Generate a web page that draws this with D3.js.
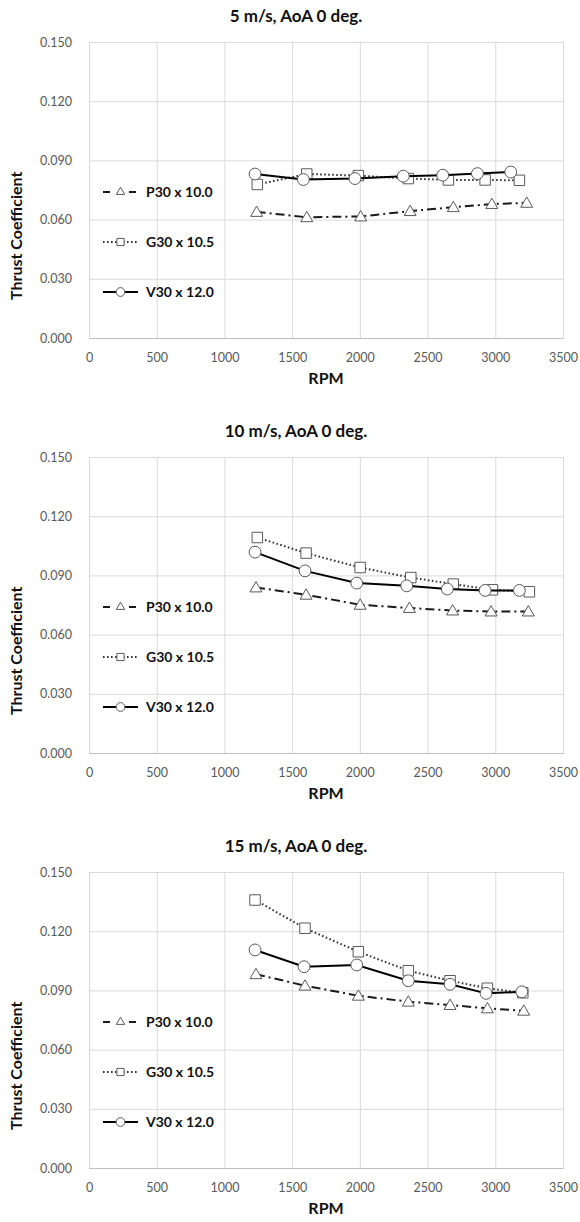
<!DOCTYPE html>
<html>
<head>
<meta charset="utf-8">
<script src="https://cdn.jsdelivr.net/npm/d3@7"></script>
<style>
  body { margin: 0; background: #fff; }
  svg { display: block; font-family: Lato, "Open Sans", sans-serif; }
</style>
</head>
<body>
<script>
(function () {
	"use strict";

	var w = 580;
	var h = 1222;

	// ticks and labels
	var rpmTicks = [0, 500, 1000, 1500, 2000, 2500, 3000, 3500];
	var ctTicks = [0, 0.03, 0.06, 0.09, 0.12, 0.15];
	var titles = ["5 m/s, AoA 0 deg.", "10 m/s, AoA 0 deg.", "15 m/s, AoA 0 deg."];
	var seriesNames = ["P30 x 10.0", "G30 x 10.5", "V30 x 12.0"];

	// 5 m/s
	var rpm5P30 = [1238, 1608, 2006, 2371, 2690, 2974, 3232];
	var ct5P30 = [0.0639, 0.0612, 0.0616, 0.0643, 0.0663, 0.0679, 0.0685];
	var rpm5G30 = [1243, 1608, 1989, 2358, 2654, 2925, 3178];
	var ct5G30 = [0.0778, 0.0831, 0.0823, 0.0808, 0.0801, 0.0801, 0.0799];
	var rpm5V30 = [1226, 1583, 1964, 2321, 2612, 2868, 3114];
	var ct5V30 = [0.0831, 0.0803, 0.0808, 0.0820, 0.0825, 0.0833, 0.0841];

	// 10 m/s
	var rpm10P30 = [1233, 1603, 2002, 2366, 2685, 2969, 3244];
	var ct10P30 = [0.0839, 0.0802, 0.0751, 0.0735, 0.0722, 0.0717, 0.0717];
	var rpm10G30 = [1243, 1603, 2002, 2376, 2690, 2979, 3252];
	var ct10G30 = [0.1092, 0.1013, 0.0940, 0.0889, 0.0856, 0.0827, 0.0817];
	var rpm10V30 = [1226, 1595, 1977, 2346, 2646, 2925, 3178];
	var ct10V30 = [0.1018, 0.0923, 0.0861, 0.0847, 0.0831, 0.0824, 0.0824];

	// 15 m/s
	var rpm15P30 = [1233, 1595, 1989, 2358, 2666, 2942, 3210];
	var ct15P30 = [0.0982, 0.0924, 0.0873, 0.0843, 0.0826, 0.0809, 0.0797];
	var rpm15G30 = [1226, 1595, 1989, 2358, 2666, 2942, 3203];
	var ct15G30 = [0.1358, 0.1215, 0.1096, 0.1000, 0.0949, 0.0911, 0.0888];
	var rpm15V30 = [1226, 1588, 1977, 2358, 2666, 2932, 3196];
	var ct15V30 = [0.1105, 0.1020, 0.1029, 0.0949, 0.0931, 0.0885, 0.0893];

	var panels = [
		[[rpm5P30, ct5P30], [rpm5G30, ct5G30], [rpm5V30, ct5V30]],
		[[rpm10P30, ct10P30], [rpm10G30, ct10G30], [rpm10V30, ct10V30]],
		[[rpm15P30, ct15P30], [rpm15G30, ct15G30], [rpm15V30, ct15V30]]
	];

	// line styles per series (P30 dash-dot, G30 dotted, V30 solid)
	var styles = [
		{ dash: "9,4,2,4", stroke: "#1a1a1a", marker: d3.symbolTriangle },
		{ dash: "1.6,2.4", stroke: "#333", marker: d3.symbolSquare },
		{ dash: null, stroke: "#000", marker: d3.symbolCircle }
	];
	var markerSize = [62, 110, 110];
	var legendMarkerSize = [30, 52, 60];

	var left = 89, right = 563;
	var plotH = 296;
	var tops = [42, 457, 872];

	var svg = d3.select("body").append("svg")
		.attr("width", w)
		.attr("height", h);

	var xScale = d3.scaleLinear().domain([0, 3500]).range([left, right]);

	function buildPanel(i) {
		var top = tops[i];
		var bottom = top + plotH;
		var yScale = d3.scaleLinear().domain([0, 0.15]).range([bottom, top]);
		var g = svg.append("g");

		// Gridlines through the axes
		var yGrid = d3.axisLeft(yScale)
			.tickValues(ctTicks)
			.tickSize(-(right - left))
			.tickFormat(d3.format(".3f"));
		var yAxis = g.append("g")
			.attr("transform", "translate(" + left + ",0)")
			.call(yGrid);
		yAxis.select(".domain").remove();
		yAxis.selectAll(".tick line").attr("stroke", "#d9d9d9");
		yAxis.selectAll(".tick text")
			.attr("x", -17)
			.attr("fill", "#595959")
			.style("font-size", "12.5px")
			.style("font-family", "Lato, sans-serif");

		var xGrid = d3.axisBottom(xScale)
			.tickValues(rpmTicks)
			.tickSize(-plotH)
			.tickFormat(d3.format("d"));
		var xAxis = g.append("g")
			.attr("transform", "translate(0," + bottom + ")")
			.call(xGrid);
		xAxis.select(".domain").attr("stroke", "#bfbfbf");
		xAxis.selectAll(".tick line").attr("stroke", "#d9d9d9");
		xAxis.selectAll(".tick text")
			.attr("y", 15)
			.attr("fill", "#595959")
			.style("font-size", "12.5px")
			.style("font-family", "Lato, sans-serif");

		// Title and axis titles
		g.append("text")
			.attr("x", 296)
			.attr("y", top - 20)
			.attr("text-anchor", "middle")
			.style("font-size", "17px")
			.style("font-weight", "bold")
			.attr("fill", "#111")
			.text(titles[i]);

		g.append("text")
			.attr("x", (left + right) / 2)
			.attr("y", bottom + 46)
			.attr("text-anchor", "middle")
			.style("font-size", "16px")
			.style("font-weight", "bold")
			.attr("fill", "#111")
			.text("RPM");

		g.append("text")
			.attr("transform", "translate(22," + (bottom - 38) + ") rotate(-90)")
			.attr("text-anchor", "start")
			.style("font-size", "16px")
			.style("font-weight", "bold")
			.attr("fill", "#111")
			.text("Thrust Coefficient");

		// Series
		panels[i].forEach(function (s, k) {
			var pts = s[0].map(function (r, j) { return [r, s[1][j]]; });
			var st = styles[k];

			var lineFun = d3.line()
				.x(function (d) { return xScale(d[0]); })
				.y(function (d) { return yScale(d[1]); });

			g.append("path")
				.attr("d", lineFun(pts))
				.attr("fill", "none")
				.attr("stroke", st.stroke)
				.attr("stroke-width", 2)
				.attr("stroke-dasharray", st.dash);

			g.selectAll(".m" + k)
				.data(pts)
				.enter().append("path")
				.attr("class", "m" + k)
				.attr("d", d3.symbol().type(st.marker).size(markerSize[k]))
				.attr("transform", function (d) {
					var dy = k === 0 ? 1 : 0;
					return "translate(" + xScale(d[0]) + "," + (yScale(d[1]) + dy) + ")";
				})
				.attr("fill", "#fff")
				.attr("stroke", "#595959")
				.attr("stroke-width", 1);
		});

		// Legend
		var legY = [top + 150, top + 200, top + 250];
		seriesNames.forEach(function (name, k) {
			var st = styles[k];
			var ly = legY[k];
			g.append("line")
				.attr("x1", 103).attr("x2", 138)
				.attr("y1", ly).attr("y2", ly)
				.attr("stroke", st.stroke)
				.attr("stroke-width", 2)
				.attr("stroke-dasharray", k === 0 ? "7,19,7" : st.dash);
			g.append("path")
				.attr("d", d3.symbol().type(st.marker).size(legendMarkerSize[k]))
				.attr("transform", "translate(120.5," + ly + ")")
				.attr("fill", "#fff")
				.attr("stroke", "#595959")
				.attr("stroke-width", 1);
			g.append("text")
				.attr("x", 146)
				.attr("y", ly + 5)
				.style("font-size", "14px")
				.style("font-weight", "bold")
				.attr("fill", "#111")
				.text(name);
		});
	}

	[0, 1, 2].forEach(buildPanel);
})();
</script>
</body>
</html>
